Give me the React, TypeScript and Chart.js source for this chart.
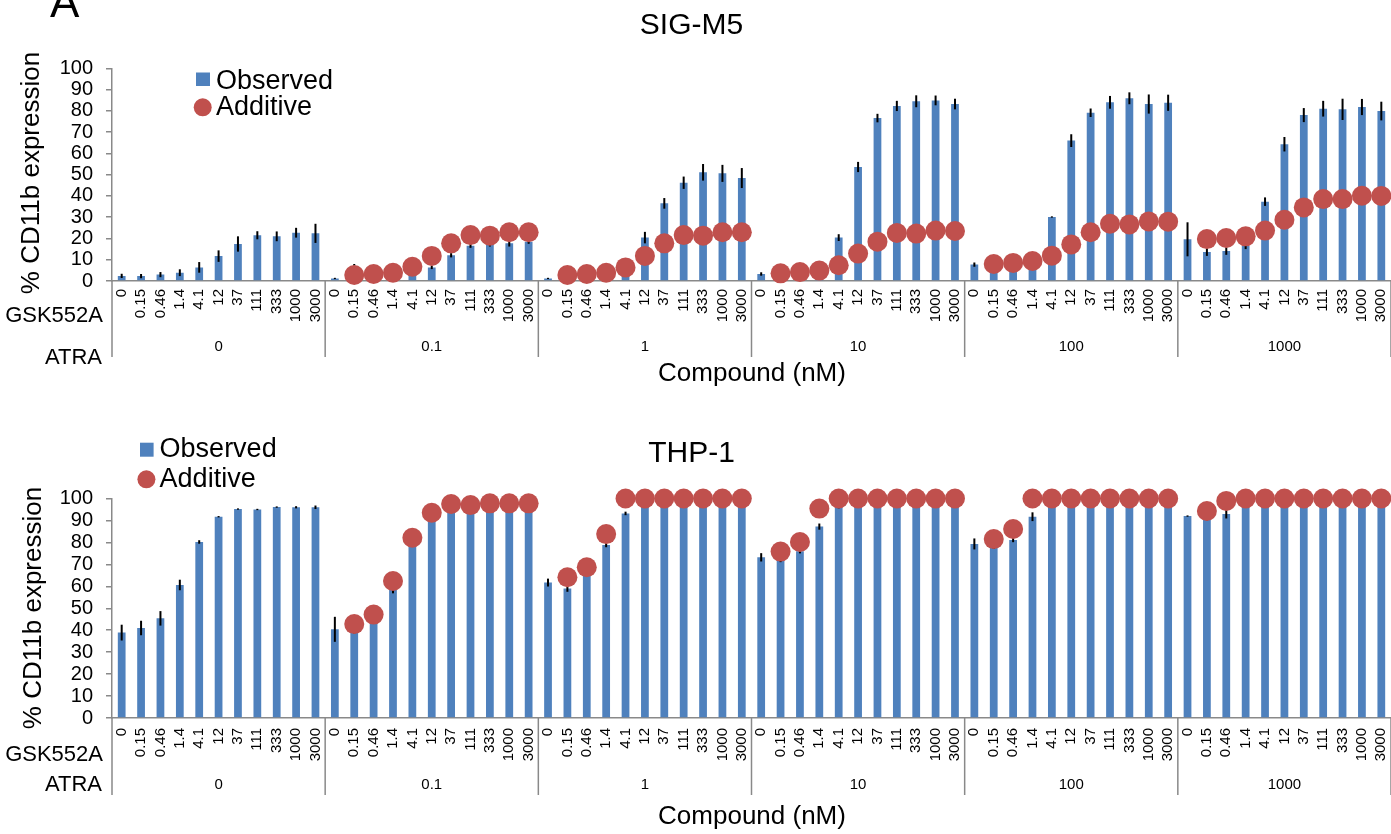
import React, { useEffect, useRef } from 'react';
import { Chart, registerables } from 'chart.js';

Chart.register(...registerables);

// ---------- data ----------
const gskLabels = ['0', '0.15', '0.46', '1.4', '4.1', '12', '37', '111', '333', '1000', '3000'];
const atraLabels = ['0', '0.1', '1', '10', '100', '1000'];
const categoryLabels = atraLabels.flatMap(() => gskLabels);

const sigObserved = [
  2.4, 2.3, 3.0, 3.9, 6.4, 11.7, 17.4, 21.5, 21.0, 22.7, 22.4,
  1.2, 5.0, 3.0, 3.5, 4.0, 6.4, 12.1, 16.6, 17.2, 17.7, 18.5,
  1.2, 2.0, 2.0, 3.0, 3.0, 20.4, 36.5, 46.2, 51.1, 50.6, 48.4,
  3.3, 3.0, 3.5, 4.5, 20.4, 53.6, 76.6, 82.3, 84.5, 84.9, 83.2,
  7.7, 7.0, 7.0, 8.0, 30.1, 66.0, 79.1, 84.0, 85.9, 83.2, 83.8,
  19.6, 13.6, 14.1, 16.5, 37.3, 64.3, 78.0, 81.0, 80.7, 81.8, 79.9,
];
const sigError = [
  1.0, 1.0, 1.2, 1.6, 2.5, 2.7, 3.6, 1.9, 2.3, 2.3, 4.5,
  0.3, 3.0, 1.0, 1.0, 1.0, 0.8, 1.0, 1.0, 1.0, 1.5, 1.0,
  0.3, 1.0, 1.0, 1.0, 1.0, 2.7, 2.5, 2.9, 3.9, 4.0, 4.7,
  0.8, 1.0, 1.0, 1.0, 1.6, 2.4, 2.0, 2.4, 2.8, 2.3, 2.5,
  1.0, 1.0, 1.0, 1.0, 0.3, 3.0, 2.0, 3.0, 2.8, 4.5, 3.8,
  8.0, 1.8, 1.8, 1.5, 2.0, 3.4, 3.3, 3.7, 5.0, 3.8, 4.4,
];
const sigAdditive = [
  null, null, null, null, null, null, null, null, null, null, null,
  null, 2.8, 3.3, 3.9, 6.7, 11.8, 17.7, 21.6, 21.3, 22.9, 22.9,
  null, 2.8, 3.3, 3.9, 6.4, 11.8, 17.7, 21.6, 21.3, 22.9, 22.9,
  null, 3.6, 4.2, 4.9, 7.4, 12.9, 18.5, 22.6, 22.3, 23.7, 23.5,
  null, 8.0, 8.5, 9.4, 11.9, 17.2, 22.9, 26.9, 26.6, 28.0, 27.9,
  null, 19.7, 20.2, 21.0, 23.7, 28.8, 34.6, 38.5, 38.5, 40.1, 40.0,
];

const thpObserved = [
  38.9, 41.0, 45.4, 60.6, 80.2, 91.7, 95.2, 95.0, 96.1, 96.0, 96.0,
  40.4, 40.0, 44.0, 58.3, 79.0, 91.0, 95.0, 95.0, 96.0, 96.0, 96.0,
  61.7, 59.0, 66.0, 78.8, 93.2, 99.0, 99.0, 99.0, 99.0, 99.0, 99.0,
  73.2, 72.0, 76.0, 87.2, 97.0, 99.0, 98.0, 99.0, 99.0, 99.0, 99.0,
  79.3, 78.0, 81.1, 91.7, 98.0, 99.0, 99.0, 99.0, 99.0, 99.0, 99.0,
  92.0, 91.0, 92.9, 99.0, 99.0, 99.0, 99.0, 99.0, 99.0, 99.0, 99.0,
];
const thpError = [
  3.6, 3.3, 3.3, 2.4, 0.8, 0.3, 0.3, 0.3, 0.3, 0.5, 0.8,
  5.7, 1.5, 1.0, 1.5, 1.0, 0.5, 0.5, 0.5, 0.5, 0.5, 0.5,
  1.8, 1.5, 1.0, 1.0, 0.8, 0.5, 0.5, 0.5, 0.5, 0.5, 0.5,
  1.9, 1.0, 1.0, 1.4, 1.5, 0.5, 1.0, 0.5, 0.5, 0.5, 0.5,
  2.5, 1.0, 1.0, 2.0, 1.5, 0.5, 0.5, 0.5, 0.5, 0.5, 0.5,
  0.3, 1.0, 2.0, 0.5, 1.0, 0.5, 0.5, 0.5, 0.5, 0.5, 0.5,
];
const thpAdditive = [
  null, null, null, null, null, null, null, null, null, null, null,
  null, 42.8, 47.1, 62.4, 82.1, 93.5, 97.5, 97.0, 97.8, 97.8, 97.8,
  null, 64.1, 68.7, 83.8, 100, 100, 100, 100, 100, 100, 100,
  null, 75.8, 80.2, 95.4, 100, 100, 100, 100, 100, 100, 100,
  null, 81.5, 86.1, 100, 100, 100, 100, 100, 100, 100, 100,
  null, 94.3, 98.9, 100, 100, 100, 100, 100, 100, 100, 100,
];

const yTicksMax = 100;
const yTicksStep = 10;
const panelTitles = ['SIG-M5', 'THP-1'];
const seriesNames = ['Observed', 'Additive'];
const yAxisTitle = '% CD11b expression';
const xAxisTitle = 'Compound (nM)';
const rowLabels = ['GSK552A', 'ATRA'];

// ---------- styles ----------
const FONT = '"Liberation Sans", Arial, Helvetica, sans-serif';
const AXIS_GRAY = '#898989';
const BAR_BLUE = '#4F81BD';
const DOT_RED = '#C0504D';

type Layout = {
  height: number;
  plotTop: number;
  plotBottom: number;
  tickPadding: number;
  titleBaseline: number;
  square: [number, number, number, number];
  legendTextX: number;
  observedBaseline: number;
  additiveBaseline: number;
  circle: [number, number, number];
  yTitleX: number;
  yTitleCenter: number;
  gskY: number;
  atraY: number;
  atraValueY: number;
  sepBottom: number;
  compoundBaseline: number;
  showLetter: boolean;
};

const topLayout: Layout = {
  height: 400,
  plotTop: 68.3,
  plotBottom: 281,
  tickPadding: 8,
  titleBaseline: 34,
  square: [196, 72.5, 14, 13.5],
  legendTextX: 216,
  observedBaseline: 88.5,
  additiveBaseline: 115,
  circle: [202.7, 107.3, 9],
  yTitleX: 39,
  yTitleCenter: 173,
  gskY: 316,
  atraY: 358,
  atraValueY: 347,
  sepBottom: 357,
  compoundBaseline: 381,
  showLetter: true,
};

const bottomLayout: Layout = {
  height: 434,
  plotTop: 98.5,
  plotBottom: 318,
  tickPadding: 10,
  titleBaseline: 62,
  square: [140, 42.7, 13.6, 14],
  legendTextX: 159.6,
  observedBaseline: 57,
  additiveBaseline: 87,
  circle: [146.4, 79.3, 9],
  yTitleX: 41,
  yTitleCenter: 208,
  gskY: 355,
  atraY: 385,
  atraValueY: 385,
  sepBottom: 395,
  compoundBaseline: 424,
  showLetter: false,
};

function makeDecor(title: string, observed: number[], errors: number[], L: Layout) {
  return {
    id: 'panelDecor',
    afterDatasetDraw(chart: any, args: any) {
      if (args.index !== 0) return;
      const ctx = chart.ctx;
      const meta = chart.getDatasetMeta(0);
      const y = chart.scales.y;
      ctx.save();
      ctx.strokeStyle = '#000';
      ctx.lineWidth = 2;
      meta.data.forEach((bar: any, i: number) => {
        const v = observed[i];
        const e = errors[i];
        if (v == null || !e) return;
        const y1 = y.getPixelForValue(v + e);
        const y2 = y.getPixelForValue(Math.max(0, v - e));
        ctx.beginPath();
        ctx.moveTo(bar.x, y1);
        ctx.lineTo(bar.x, y2);
        ctx.stroke();
      });
      ctx.restore();
    },
    afterDraw(chart: any) {
      const ctx = chart.ctx;
      const x = chart.scales.x;
      const area = chart.chartArea;
      const n = gskLabels.length;
      const step = x.getPixelForValue(1) - x.getPixelForValue(0);
      ctx.save();

      // group separators
      ctx.strokeStyle = AXIS_GRAY;
      ctx.lineWidth = 1.5;
      for (let g = 0; g <= atraLabels.length; g++) {
        const px = g < atraLabels.length
          ? x.getPixelForValue(g * n) - step / 2
          : x.getPixelForValue(g * n - 1) + step / 2;
        ctx.beginPath();
        ctx.moveTo(px, area.bottom);
        ctx.lineTo(px, L.sepBottom);
        ctx.stroke();
      }

      // ATRA group values
      ctx.fillStyle = '#000';
      ctx.font = `15px ${FONT}`;
      ctx.textAlign = 'center';
      ctx.textBaseline = 'middle';
      atraLabels.forEach((lab, g) => {
        const cx = (x.getPixelForValue(g * n) + x.getPixelForValue(g * n + n - 1)) / 2;
        ctx.fillText(lab, cx, L.atraValueY);
      });

      // row labels
      ctx.font = `22px ${FONT}`;
      ctx.textAlign = 'right';
      ctx.fillText(rowLabels[0], 103, L.gskY);
      ctx.fillText(rowLabels[1], 102, L.atraY);

      // x-axis title
      ctx.font = `26px ${FONT}`;
      ctx.textAlign = 'center';
      ctx.textBaseline = 'alphabetic';
      ctx.fillText(xAxisTitle, 752, L.compoundBaseline);

      // y-axis title
      ctx.save();
      ctx.translate(L.yTitleX, L.yTitleCenter);
      ctx.rotate(-Math.PI / 2);
      ctx.font = `26px ${FONT}`;
      ctx.textAlign = 'center';
      ctx.textBaseline = 'alphabetic';
      ctx.fillText(yAxisTitle, 0, 0);
      ctx.restore();

      // panel title
      ctx.font = `30px ${FONT}`;
      ctx.textAlign = 'center';
      ctx.textBaseline = 'alphabetic';
      ctx.fillText(title, 691.5, L.titleBaseline);

      // legend
      ctx.fillStyle = BAR_BLUE;
      ctx.fillRect(L.square[0], L.square[1], L.square[2], L.square[3]);
      ctx.fillStyle = DOT_RED;
      ctx.beginPath();
      ctx.arc(L.circle[0], L.circle[1], L.circle[2], 0, Math.PI * 2);
      ctx.fill();
      ctx.fillStyle = '#000';
      ctx.font = `27px ${FONT}`;
      ctx.textAlign = 'left';
      ctx.fillText(seriesNames[0], L.legendTextX, L.observedBaseline);
      ctx.fillText(seriesNames[1], L.legendTextX, L.additiveBaseline);

      if (L.showLetter) {
        ctx.font = `44px ${FONT}`;
        ctx.textAlign = 'left';
        ctx.fillText('A', 50, 17);
      }
      ctx.restore();
    },
  };
}

function Panel(props: { title: string; observed: number[]; errors: number[]; additive: (number | null)[]; layout: Layout; top: number }) {
  const ref = useRef<HTMLCanvasElement | null>(null);
  const { title, observed, errors, additive, layout: L, top } = props;

  useEffect(() => {
    if (!ref.current) return;
    const chart = new Chart(ref.current, {
      type: 'bar',
      data: {
        labels: categoryLabels,
        datasets: [
          {
            type: 'bar',
            label: seriesNames[0],
            data: observed,
            backgroundColor: BAR_BLUE,
            barPercentage: 0.4,
            categoryPercentage: 1,
            order: 2,
          } as any,
          {
            type: 'line',
            label: seriesNames[1],
            data: additive,
            showLine: false,
            pointRadius: 10,
            pointHoverRadius: 10,
            pointBackgroundColor: DOT_RED,
            pointBorderColor: DOT_RED,
            pointBorderWidth: 0,
            order: 1,
            clip: false,
          } as any,
        ],
      },
      options: {
        responsive: false,
        animation: false,
        devicePixelRatio: 1,
        events: [],
        layout: { autoPadding: false, padding: { top: L.plotTop, left: 0, right: 0, bottom: 0 } },
        plugins: {
          legend: { display: false },
          title: { display: false },
          tooltip: { enabled: false },
        },
        scales: {
          x: {
            type: 'category',
            offset: true,
            grid: { display: false, drawTicks: false },
            border: { display: true, color: AXIS_GRAY, width: 1.5 },
            ticks: {
              autoSkip: false,
              minRotation: 90,
              maxRotation: 90,
              padding: L.tickPadding,
              color: '#000',
              font: { family: FONT, size: 15 },
            },
            afterFit: (s: any) => {
              s.height = L.height - L.plotBottom;
              s.paddingLeft = 0;
              s.paddingRight = 0;
            },
          },
          y: {
            min: 0,
            max: yTicksMax,
            ticks: {
              stepSize: yTicksStep,
              autoSkip: false,
              padding: 13,
              color: '#000',
              font: { family: FONT, size: 20 },
            },
            grid: {
              drawOnChartArea: false,
              drawTicks: true,
              tickLength: 6,
              color: AXIS_GRAY,
              lineWidth: 1.5,
            },
            border: { display: true, color: AXIS_GRAY, width: 1.5 },
            afterFit: (s: any) => {
              s.width = 112;
              s.paddingTop = 0;
              s.paddingBottom = 0;
            },
          },
        },
      } as any,
      plugins: [makeDecor(title, observed, errors, L)],
    });
    return () => chart.destroy();
  }, []);

  return (
    <canvas
      ref={ref}
      width={1391}
      height={L.height}
      style={{ position: 'absolute', left: 0, top, width: 1391, height: L.height, display: 'block' }}
    />
  );
}

export default function App() {
  return (
    <div style={{ position: 'absolute', left: 0, top: 0, width: 1391, height: 834, background: '#fff', overflow: 'hidden' }}>
      <Panel title={panelTitles[0]} observed={sigObserved} errors={sigError} additive={sigAdditive} layout={topLayout} top={0} />
      <Panel title={panelTitles[1]} observed={thpObserved} errors={thpError} additive={thpAdditive} layout={bottomLayout} top={400} />
    </div>
  );
}
